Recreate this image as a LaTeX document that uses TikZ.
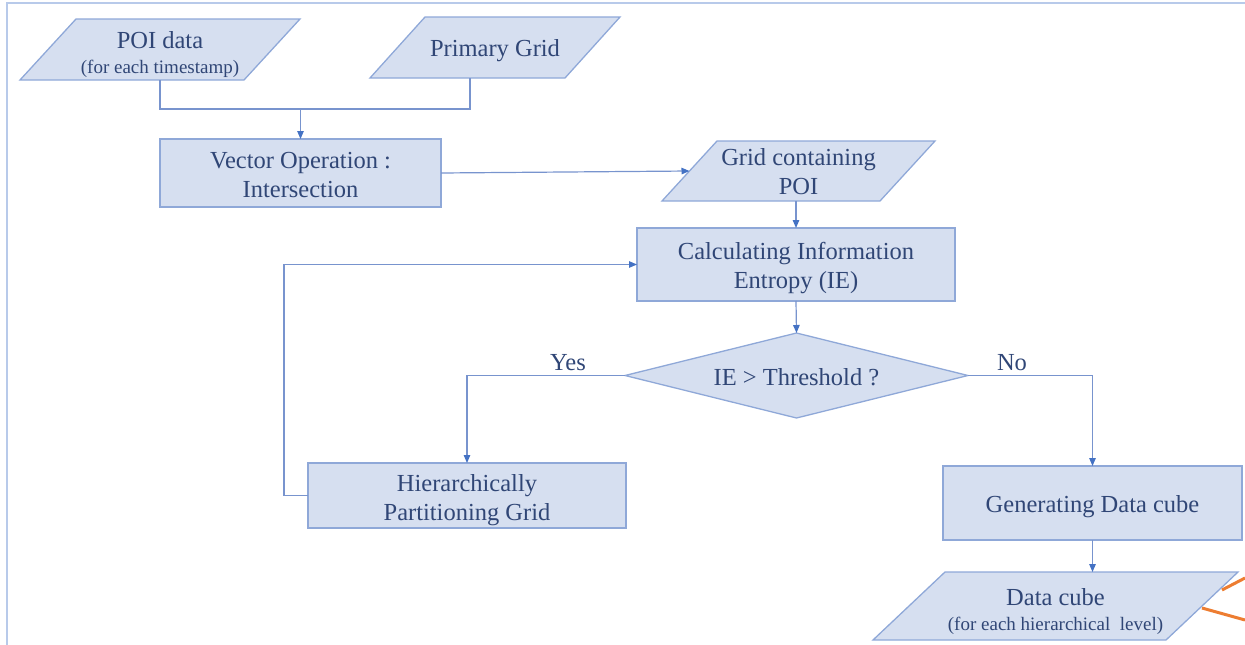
\documentclass[tikz,border=0pt]{standalone}
\usepackage{fontspec}
\setmainfont{Liberation Serif}
\usetikzlibrary{arrows.meta,backgrounds}
\definecolor{boxfill}{RGB}{214,223,240}
\definecolor{boxline}{RGB}{143,168,216}
\definecolor{txt}{RGB}{48,70,118}
\definecolor{conn}{RGB}{120,148,206}
\definecolor{tip}{RGB}{68,114,196}
\definecolor{framec}{RGB}{184,202,234}
\definecolor{orng}{RGB}{237,125,49}
\newcommand{\smalltxt}{\fontsize{19}{22}\selectfont}
\tikzset{
  lbl/.style={inner sep=0pt, outer sep=0pt, text=txt, align=center,
    font=\fontsize{24.5}{29}\selectfont},
  holder/.style={inner sep=0pt, outer sep=0pt},
  boxnode/.style={holder, draw=boxline, fill=boxfill, line width=1.3pt},
  shapefill/.style={draw=boxline, fill=boxfill, line width=1.3pt, line join=miter},
  wire/.style={draw=conn, line width=1.2pt},
  arr/.style={wire, -{Triangle[length=8pt,width=6.5pt,color=tip]}},
}
\begin{document}
\begin{tikzpicture}[x=1pt,y=-1pt]
\useasboundingbox (0,0) rectangle (1245,645);
% frame fragments
\draw[framec, line width=2pt] (7,645) -- (7,3) -- (1245,3);
% shape holders
\node[holder, minimum width=280, minimum height=61] (poi) at (160,49.5) {};
\node[holder, minimum width=250, minimum height=61] (prim) at (495,47.5) {};
\node[boxnode, minimum width=281, minimum height=68] (vec) at (300.5,173) {};
\node[holder, minimum width=273, minimum height=60] (grid) at (798.5,171) {};
\node[boxnode, minimum width=318, minimum height=73] (calc) at (796,264.5) {};
\node[holder, minimum width=343, minimum height=85] (dec) at (796.5,375.5) {};
\node[boxnode, minimum width=318, minimum height=65] (hier) at (467,495.5) {};
\node[boxnode, minimum width=299, minimum height=74] (gen) at (1092.5,503) {};
\node[holder, minimum width=365, minimum height=68] (cube) at (1055.5,606) {};
\begin{pgfonlayer}{background}
  \foreach \n/\s in {poi/56, prim/55, grid/55, cube/72}
    \filldraw[shapefill] ([xshift=\s pt]\n.north west) -- (\n.north east)
      -- ([xshift=-\s pt]\n.south east) -- (\n.south west) -- cycle;
  \filldraw[shapefill] (dec.west) -- (dec.north) -- (dec.east) -- (dec.south) -- cycle;
\end{pgfonlayer}
% texts
\node[lbl] (poit) at ([yshift=-5pt]poi.center) {POI data\\[-4pt]{\smalltxt (for each timestamp)}};
\node[lbl] (primt) at ([yshift=-3pt]prim.center) {Primary Grid};
\node[lbl] (vect) at ([yshift=-2.5pt]vec.center) {Vector Operation :\\Intersection};
\node[lbl] (gridt) at ([yshift=-1pt]grid.center) {Grid containing\\POI};
\node[lbl] (calct) at ([yshift=-4pt]calc.center) {Calculating Information\\Entropy (IE)};
\node[lbl] (dect) at ([yshift=-2pt]dec.center) {IE > Threshold ?};
\node[lbl] (hiert) at ([yshift=-4.5pt]hier.center) {Hierarchically\\Partitioning Grid};
\node[lbl] (gent) at ([yshift=-4pt]gen.center) {Generating Data cube};
\node[lbl] (cubet) at ([yshift=-5.5pt]cube.center) {Data cube\\[-4pt]{\smalltxt (for each hierarchical\ \ level)}};
% labels
\node[lbl] (yes) at (568,363) {Yes};
\node[lbl] (no) at (1012,363) {No};
% connectors
\coordinate (join) at (vec.north |- 0,109);
\coordinate (primfoot) at ([xshift=-25pt]prim.south);
\draw[wire] (poi.south) |- (join);
\draw[wire] (primfoot) |- (join);
\draw[arr] (join) -- (vec.north);
\draw[arr] (vec.east) -- ([xshift=27.5pt]grid.west);
\draw[arr] (grid.south -| calc.north) -- (calc.north);
\draw[arr] (calc.south) -- (dec.north);
\draw[arr] (dec.west) -| (hier.north);
\draw[arr] (dec.east) -| (gen.north);
\coordinate (loop) at (284,0);
\draw[arr] (hier.west) -| (loop |- calc.west) -- (calc.west);
\draw[arr] (gen.south) -- (gen.south |- cube.north);
% orange fragments
\draw[orng, line width=3pt] (1222,590) -- (1245,578);
\draw[orng, line width=3pt] (1202,608) -- (1245,620);
\end{tikzpicture}
\end{document}
